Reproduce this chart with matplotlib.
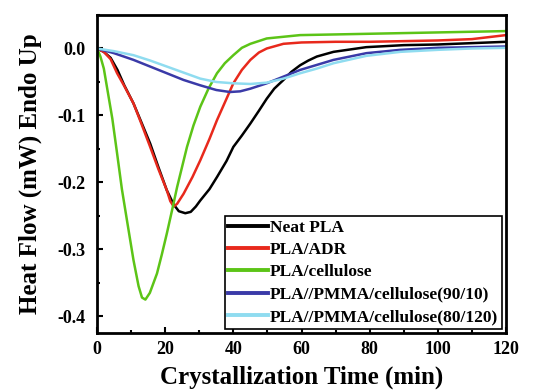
import matplotlib.pyplot as plt
from matplotlib.ticker import MultipleLocator

plt.rcParams['font.family'] = ['Liberation Serif', 'DejaVu Serif']
plt.rcParams['font.weight'] = 'bold'

# crystallization time (min) and heat flow (mW)
t_black = [0, 2, 4, 6, 8, 10.7, 13, 15.6, 18, 20.5, 22.5, 24, 25.9, 27.5, 29, 30.3, 33, 35.2, 38, 40, 42.5, 45, 47.5, 49.8, 52, 54.7, 57, 59.6, 62, 64.5, 69.4, 79, 90, 100, 110, 120]
q_black = [0, -0.005, -0.014, -0.032, -0.055, -0.082, -0.11, -0.142, -0.177, -0.212, -0.233, -0.243, -0.246, -0.244, -0.236, -0.227, -0.21, -0.192, -0.168, -0.147, -0.13, -0.112, -0.093, -0.075, -0.06, -0.047, -0.035, -0.025, -0.018, -0.012, -0.005, 0.002, 0.005, 0.006, 0.008, 0.01]

t_red = [0, 2, 4, 5.9, 8, 10.7, 13, 15.6, 18, 20.5, 21.5, 22.5, 23.5, 25.4, 28, 30.3, 33, 35.2, 38, 40, 42.5, 45, 47.5, 49.8, 54.7, 60, 70, 80, 90, 100, 110, 120]
q_red = [0, -0.005, -0.016, -0.037, -0.056, -0.082, -0.112, -0.147, -0.18, -0.212, -0.228, -0.236, -0.232, -0.217, -0.192, -0.167, -0.135, -0.107, -0.075, -0.052, -0.032, -0.017, -0.006, 0, 0.007, 0.009, 0.01, 0.01, 0.011, 0.012, 0.014, 0.02]

t_green = [0, 1, 2, 2.9, 4.5, 5.9, 7.3, 8.8, 10.7, 12.2, 13.2, 14.2, 15.5, 17.6, 19, 20.5, 22, 23.5, 25, 26.4, 28.3, 30.3, 32.7, 35.2, 37.5, 40, 42.5, 45, 49.8, 59.6, 70, 80, 90, 100, 110, 120]
q_green = [0, -0.012, -0.03, -0.057, -0.105, -0.157, -0.21, -0.257, -0.316, -0.355, -0.372, -0.375, -0.365, -0.336, -0.308, -0.276, -0.242, -0.207, -0.176, -0.147, -0.115, -0.087, -0.06, -0.037, -0.022, -0.01, 0.001, 0.007, 0.015, 0.02, 0.021, 0.022, 0.023, 0.024, 0.025, 0.026]

t_blue = [0, 5, 10.7, 15.6, 20.5, 25.4, 30.3, 35, 39, 42, 45, 49.8, 54.7, 59.6, 69.4, 79, 89, 100, 110, 120]
q_blue = [0, -0.007, -0.017, -0.027, -0.037, -0.047, -0.055, -0.062, -0.065, -0.064, -0.06, -0.052, -0.042, -0.032, -0.017, -0.007, -0.002, 0.001, 0.002, 0.003]

t_cyan = [0, 5, 10.7, 15.6, 20.5, 25.4, 30.3, 35, 40, 45, 49.8, 54.7, 59.6, 64.5, 69.4, 79, 89, 100, 110, 120]
q_cyan = [0, -0.004, -0.01, -0.018, -0.027, -0.036, -0.045, -0.05, -0.052, -0.053, -0.051, -0.045, -0.037, -0.03, -0.022, -0.011, -0.005, -0.002, 0, 0.001]

labels = ['Neat PLA', 'PLA/ADR', 'PLA/cellulose',
          'PLA//PMMA/cellulose(90/10)', 'PLA//PMMA/cellulose(80/120)']
colors = ['#000000', '#e8291c', '#5cc417', '#3a3aa8', '#8fdcf0']

fig = plt.figure(figsize=(5.49, 3.90), dpi=100)
ax = fig.add_axes([0.1767, 0.146, 0.745, 0.8155])

series = [(t_black, q_black), (t_red, q_red), (t_green, q_green),
          (t_blue, q_blue), (t_cyan, q_cyan)]
for (t, q), lab, c in zip(series, labels, colors):
    ax.plot(t, q, color=c, lw=1.8, label=lab)

ax.set_xlim(0, 120)
ax.set_ylim(-0.425, 0.05)
ax.xaxis.set_major_locator(MultipleLocator(20))
ax.xaxis.set_minor_locator(MultipleLocator(10))
ax.yaxis.set_minor_locator(MultipleLocator(0.05))
ax.set_yticks([0.0, -0.1, -0.2, -0.3, -0.4])
ax.set_yticklabels(['0.0', '-0.1', '-0.2', '-0.3', '-0.4'])
ax.tick_params(which='both', direction='in', labelsize=13, width=1.5)
ax.tick_params(axis='y', pad=8)
ax.tick_params(axis='x', pad=6)
ax.tick_params(which='major', length=4)
ax.tick_params(which='minor', length=2)
for s in ax.spines.values():
    s.set_linewidth(2)

ax.set_xlabel('Crystallization Time (min)', fontsize=18, fontweight='bold', labelpad=5)
ax.set_ylabel('Heat Flow (mW) Endo Up', fontsize=18, fontweight='bold', labelpad=11)

leg = ax.legend(loc='lower right', fontsize=12.5, handlelength=2.3, handletextpad=0.1,
                labelspacing=0.36, borderpad=0.2, borderaxespad=0.25, fancybox=False,
                framealpha=1, edgecolor='black')
leg.get_frame().set_linewidth(1.2)
for line in leg.get_lines():
    line.set_linewidth(2.8)

fig.savefig('out.png', dpi=100)
